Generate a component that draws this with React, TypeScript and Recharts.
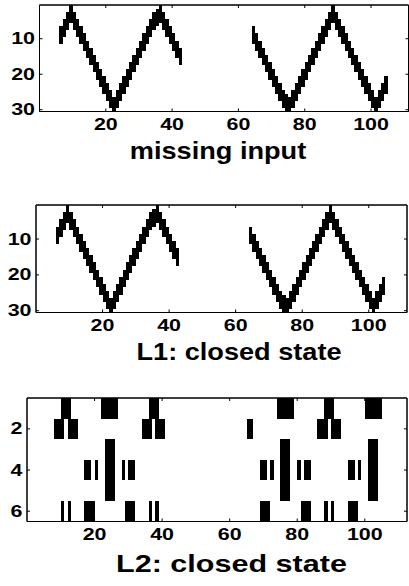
import React from 'react';
import { ScatterChart, Scatter, XAxis, YAxis, ReferenceArea } from 'recharts';

// ---------- data ----------
const xTicks = [20, 40, 60, 80, 100];
const zigzagYTicks = [10, 20, 30];
const l2YTicks = [2, 4, 6];

const zigzagImageRows = 30;
const l2ImageRows = 6;
const strokeRows = 5; // vertical thickness of the moving stroke, in image rows

// "missing input": column index and top row of the black run in that column
const inputColumns = [
  6, 7, 8, 9, 10, 11, 12, 13, 14, 15, 16, 17, 18, 19, 20, 21, 22, 23, 24, 25, 26, 27, 28, 29, 30,
  31, 32, 33, 34, 35, 36, 37, 38, 39, 40, 41, 42,
  64, 65, 66, 67, 68, 69, 70, 71, 72, 73, 74, 75, 76, 77, 78, 79, 80, 81, 82, 83, 84, 85, 86, 87,
  88, 89, 90, 91, 92, 93, 94, 95, 96, 97, 98, 99, 100, 101, 102, 103, 104,
];
const inputTopRows = [
  7, 5, 3, 1, 3, 5, 7, 9, 11, 13, 15, 17, 19, 21, 23, 25, 27, 25, 23, 21, 19, 17, 15, 13, 11,
  9, 7, 5, 3, 2, 1, 3, 5, 7, 9, 11, 13,
  7, 9, 11, 13, 15, 17, 19, 21, 23, 25, 26, 27, 25, 23, 21, 19, 17, 15, 13, 11, 9, 7, 5, 3,
  1, 3, 5, 7, 9, 11, 13, 15, 17, 19, 21, 23, 25, 27, 25, 23, 21,
];

// "L1: closed state"
const l1Columns = [
  6, 7, 8, 9, 10, 11, 12, 13, 14, 15, 16, 17, 18, 19, 20, 21, 22, 23, 24, 25, 26, 27, 28, 29, 30,
  31, 32, 33, 34, 35, 36, 37, 38, 39, 40, 41, 42,
  64, 65, 66, 67, 68, 69, 70, 71, 72, 73, 74, 75, 76, 77, 78, 79, 80, 81, 82, 83, 84, 85, 86, 87,
  88, 89, 90, 91, 92, 93, 94, 95, 96, 97, 98, 99, 100, 101, 102, 103, 104,
];
const l1TopRows = [
  7, 5, 3, 1, 3, 5, 7, 9, 11, 13, 15, 17, 19, 21, 23, 25, 27, 25, 23, 21, 19, 17, 15, 13, 11,
  9, 7, 5, 3, 2, 1, 3, 5, 7, 9, 11, 13,
  7, 9, 11, 13, 15, 17, 19, 21, 23, 25, 26, 27, 25, 23, 21, 19, 17, 15, 13, 11, 9, 7, 5, 3,
  1, 3, 5, 7, 9, 11, 13, 15, 17, 19, 21, 23, 25, 27, 25, 23, 21,
];

// "L2: closed state": black blocks (rows from..to, columns from..to)
const l2RowFrom = [1, 1, 1, 1, 1, 1, 2, 2, 2, 2, 2, 2, 2, 3, 3, 3, 4, 4, 4, 4, 4, 4, 4, 4, 4, 4, 6, 6, 6, 6, 6, 6, 6, 6, 6, 6, 6];
const l2RowTo = [1, 1, 1, 1, 1, 1, 2, 2, 2, 2, 2, 2, 2, 5, 5, 5, 4, 4, 4, 4, 4, 4, 4, 4, 4, 4, 6, 6, 6, 6, 6, 6, 6, 6, 6, 6, 6];
const l2ColFrom = [10, 22, 36, 74, 88, 100, 8, 12, 34, 38, 65, 86, 90, 23, 75, 101, 17, 20, 28, 30, 69, 72, 80, 82, 95, 98, 10, 12, 17, 29, 36, 38, 69, 81, 88, 90, 95];
const l2ColTo = [12, 26, 38, 78, 90, 104, 10, 14, 36, 40, 66, 88, 92, 25, 77, 103, 18, 20, 28, 31, 70, 72, 80, 83, 96, 98, 10, 12, 19, 31, 36, 38, 71, 83, 88, 90, 97];

const titles = ['missing input', 'L1: closed state', 'L2: closed state'];

// ---------- styling ----------
const FONT = '"Liberation Sans", Arial, Helvetica, sans-serif';
const TICK_SX = 1.3;
const TICK_LEN = 3;

function BottomTick(props: any) {
  const { x, y, payload } = props;
  return (
    <g>
      <line x1={x} y1={y} x2={x} y2={y - TICK_LEN} stroke="#000" strokeWidth={1} />
      <text
        transform={`translate(${x},${y + 18.5}) scale(${TICK_SX},1)`}
        textAnchor="middle"
        fontFamily={FONT}
        fontWeight="bold"
        fontSize={16.5}
        fill="#000"
      >
        {payload.value}
      </text>
    </g>
  );
}

function TopTick(props: any) {
  const { x, y } = props;
  return <line x1={x} y1={y} x2={x} y2={y + TICK_LEN} stroke="#000" strokeWidth={1} />;
}

function LeftTick(props: any) {
  const { x, y, payload } = props;
  return (
    <g>
      <line x1={x} y1={y} x2={x + TICK_LEN} y2={y} stroke="#000" strokeWidth={1} />
      <text
        transform={`translate(${x - 4.5},${y}) scale(${TICK_SX},1)`}
        textAnchor="end"
        dominantBaseline="central"
        fontFamily={FONT}
        fontWeight="bold"
        fontSize={16.5}
        fill="#000"
      >
        {payload.value}
      </text>
    </g>
  );
}

function RightTick(props: any) {
  const { x, y } = props;
  return <line x1={x} y1={y} x2={x - TICK_LEN} y2={y} stroke="#000" strokeWidth={1} />;
}

const NoShape = () => <g />;

type Cell = { x1: number; x2: number; y1: number; y2: number; cx: number; cy: number };

function makeCell(x1: number, x2: number, y1: number, y2: number): Cell {
  return { x1, x2, y1, y2, cx: (x1 + x2) / 2, cy: (y1 + y2) / 2 };
}

function zigzagCells(cols: number[], tops: number[]): Cell[] {
  return cols.map((c, i) =>
    makeCell(c, c + 1, tops[i] - 0.5, Math.min(tops[i] + strokeRows - 1, zigzagImageRows) + 0.5)
  );
}

function blockCells(): Cell[] {
  return l2RowFrom.map((r, i) => makeCell(l2ColFrom[i], l2ColTo[i] + 1, r - 0.5, l2RowTo[i] + 0.5));
}

type PanelProps = {
  plotTop: number;
  plotBottom: number;
  plotLeft: number;
  plotRight: number;
  xMax: number;
  rows: number;
  yTicks: number[];
  cells: Cell[];
};

const MT = 6;
const XAXIS_H = 40;
const PAGE_W = 409;
const EDGE_AXIS = 1; // size of the top / right frame axes

function Panel({ plotTop, plotBottom, plotLeft, plotRight, xMax, rows, yTicks, cells }: PanelProps) {
  const h = plotBottom - plotTop + MT + XAXIS_H;
  const common = {
    type: 'number' as const,
    allowDataOverflow: true,
    interval: 0 as const,
    axisLine: { stroke: '#000', strokeWidth: 1 },
    tickLine: false,
    tickSize: 0,
    tickMargin: 0,
  };
  return (
    <div style={{ position: 'absolute', left: 0, top: plotTop - MT, width: PAGE_W, height: h }}>
      <ScatterChart
        width={PAGE_W}
        height={h}
        margin={{ top: MT - EDGE_AXIS, right: PAGE_W - plotRight - EDGE_AXIS, left: 0, bottom: 0 }}
      >
        <XAxis xAxisId="b" dataKey="cx" domain={[0, xMax]} ticks={xTicks} height={XAXIS_H} tick={BottomTick} {...common} />
        <XAxis xAxisId="t" dataKey="cx" orientation="top" domain={[0, xMax]} ticks={xTicks} height={EDGE_AXIS} tick={TopTick} {...common} />
        <YAxis yAxisId="l" dataKey="cy" domain={[0.5, rows + 0.5]} reversed ticks={yTicks} width={plotLeft} tick={LeftTick} {...common} />
        <YAxis yAxisId="r" dataKey="cy" orientation="right" domain={[0.5, rows + 0.5]} reversed ticks={yTicks} width={EDGE_AXIS} tick={RightTick} {...common} />
        <Scatter data={cells} xAxisId="b" yAxisId="l" shape={NoShape} isAnimationActive={false} />
        <Scatter data={cells} xAxisId="t" yAxisId="r" shape={NoShape} isAnimationActive={false} />
        {cells.map((c, i) => (
          <ReferenceArea
            key={i}
            xAxisId="b"
            yAxisId="l"
            x1={c.x1}
            x2={c.x2}
            y1={c.y1}
            y2={c.y2}
            fill="#000"
            fillOpacity={1}
            stroke="none"
            shapeRendering="crispEdges"
          />
        ))}
        <ReferenceArea
          xAxisId="b"
          yAxisId="l"
          x1={0}
          x2={xMax}
          y1={0.5}
          y2={rows + 0.5}
          fill="none"
          fillOpacity={0}
          stroke="#000"
          strokeWidth={1}
        />
      </ScatterChart>
    </div>
  );
}

export default function App() {
  const titleStyle = {
    fontFamily: FONT,
    fontWeight: 'bold' as const,
    fill: '#000',
  };
  return (
    <div style={{ position: 'absolute', left: 0, top: 0, width: PAGE_W, height: 586, background: '#fff', overflow: 'hidden' }}>
      <Panel
        plotTop={5}
        plotBottom={111.5}
        plotLeft={39.5}
        plotRight={408.5}
        xMax={111.3}
        rows={zigzagImageRows}
        yTicks={zigzagYTicks}
        cells={zigzagCells(inputColumns, inputTopRows)}
      />
      <Panel
        plotTop={205}
        plotBottom={312.5}
        plotLeft={36}
        plotRight={407}
        xMax={111.5}
        rows={zigzagImageRows}
        yTicks={zigzagYTicks}
        cells={zigzagCells(l1Columns, l1TopRows)}
      />
      <Panel
        plotTop={398}
        plotBottom={521.5}
        plotLeft={27}
        plotRight={407}
        xMax={112.5}
        rows={l2ImageRows}
        yTicks={l2YTicks}
        cells={blockCells()}
      />
      <svg width={PAGE_W} height={586} style={{ position: 'absolute', left: 0, top: 0, pointerEvents: 'none' }}>
        <text transform="translate(218,159) scale(1.18,1)" textAnchor="middle" fontSize={23} {...titleStyle}>
          {titles[0]}
        </text>
        <text transform="translate(239,360) scale(1.18,1)" textAnchor="middle" fontSize={23} {...titleStyle}>
          {titles[1]}
        </text>
        <text transform="translate(231.5,571.5) scale(1.3,1)" textAnchor="middle" fontSize={23.5} {...titleStyle}>
          {titles[2]}
        </text>
      </svg>
    </div>
  );
}
